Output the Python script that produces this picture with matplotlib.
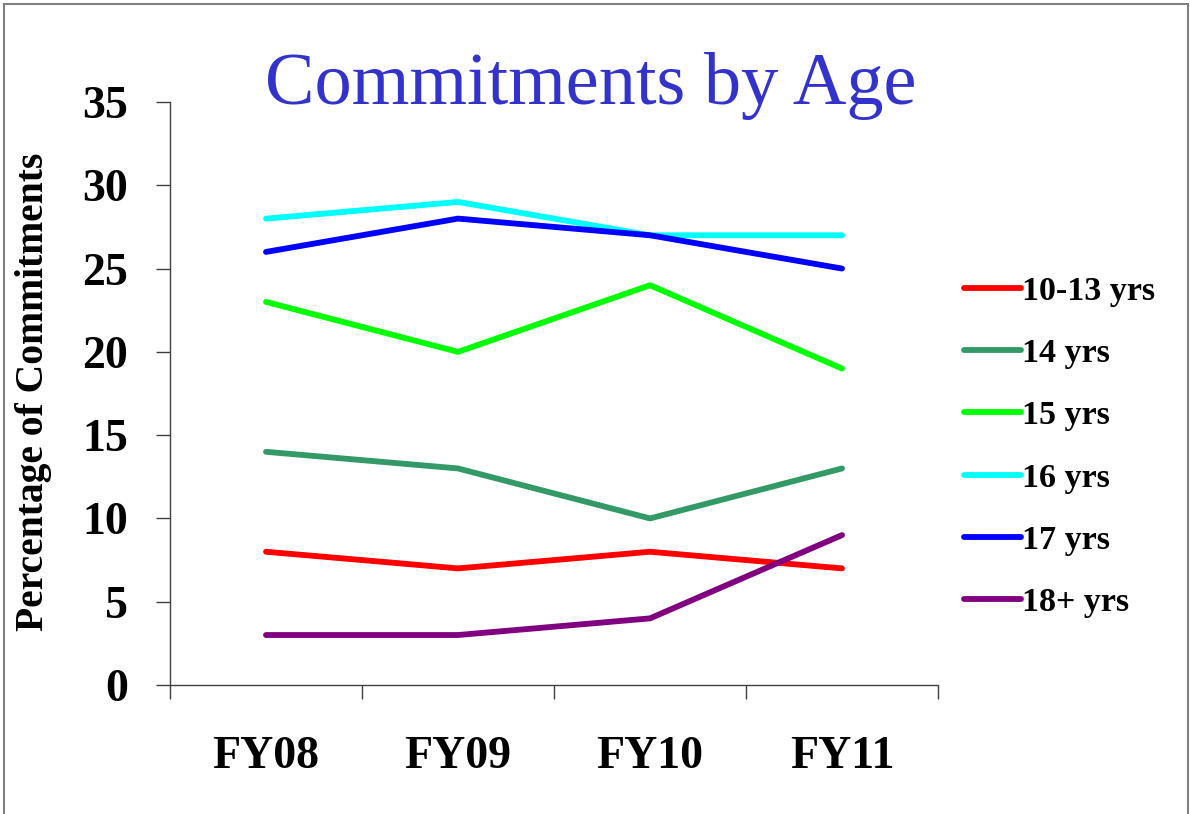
import matplotlib
matplotlib.use('Agg')
import matplotlib.pyplot as plt
from matplotlib.patches import Rectangle

plt.rcParams['font.family'] = ['Liberation Serif', 'DejaVu Serif']
plt.rcParams['font.weight'] = 'bold'

# Data
years = ['FY08', 'FY09', 'FY10', 'FY11']
age_groups = ['10-13 yrs', '14 yrs', '15 yrs', '16 yrs', '17 yrs', '18+ yrs']
age_10_13 = [8, 7, 8, 7]
age_14 = [14, 13, 10, 13]
age_15 = [23, 20, 24, 19]
age_16 = [28, 29, 27, 27]
age_17 = [26, 28, 27, 25]
age_18 = [3, 3, 4, 9]
series = [age_10_13, age_14, age_15, age_16, age_17, age_18]
colors = ['#FF0000', '#339966', '#00FF00', '#00FFFF', '#0000FF', '#800080']

fig = plt.figure(figsize=(11.9, 8.14), dpi=100)
ax = fig.add_axes([170 / 1190, 1 - 685 / 814, 768 / 1190, 583 / 814])

x = list(range(len(years)))
for vals, lab, c in zip(series, age_groups, colors):
    ax.plot(x, vals, color=c, linewidth=4.2, label=lab, solid_capstyle='round')

ax.set_xlim(-0.5, len(years) - 0.5)
ax.set_ylim(0, 35)
ax.set_yticks(range(0, 36, 5))
ax.set_xticks([i - 0.5 for i in range(len(years) + 1)])
ax.set_xticklabels([])
ax.set_xticks(x, minor=True)
ax.set_xticklabels(years, minor=True)

ax.spines['top'].set_visible(False)
ax.spines['right'].set_visible(False)
for s in ['left', 'bottom']:
    ax.spines[s].set_color('#404040')
    ax.spines[s].set_linewidth(1.0)

ax.tick_params(axis='y', direction='out', length=10, width=1.0, color='#404040',
               pad=20, labelsize=33)
ax.tick_params(axis='x', which='major', direction='out', length=10, width=1.0,
               color='#404040')
ax.tick_params(axis='x', which='minor', length=0, pad=37, labelsize=33)
for lbl in ax.get_yticklabels() + ax.get_xticklabels(minor=True):
    lbl.set_fontweight('bold')

fig.text(34 / 1190, 1 - 392 / 814, 'Percentage of Commitments', rotation=90,
         ha='center', va='center', fontsize=28.5, fontweight='bold')

fig.text(591 / 1190, 1 - 104 / 814, 'Commitments by Age', ha='center',
         va='baseline', fontsize=53.5, fontweight='normal', color='#3333CC')

leg = fig.legend(loc='upper left', bbox_to_anchor=(950 / 1190, 1 - 262 / 814),
                 frameon=False, fontsize=24.5, handlelength=1.7,
                 handletextpad=0.03, labelspacing=0.92, borderaxespad=0)
for t in leg.get_texts():
    t.set_fontweight('bold')

fig.patches.append(Rectangle((4 / 1190, -0.02), 1184 / 1190, 1.02 - 4 / 814,
                             transform=fig.transFigure, fill=False,
                             edgecolor='#808080', linewidth=1.5))

fig.savefig('out.png', dpi=100)
